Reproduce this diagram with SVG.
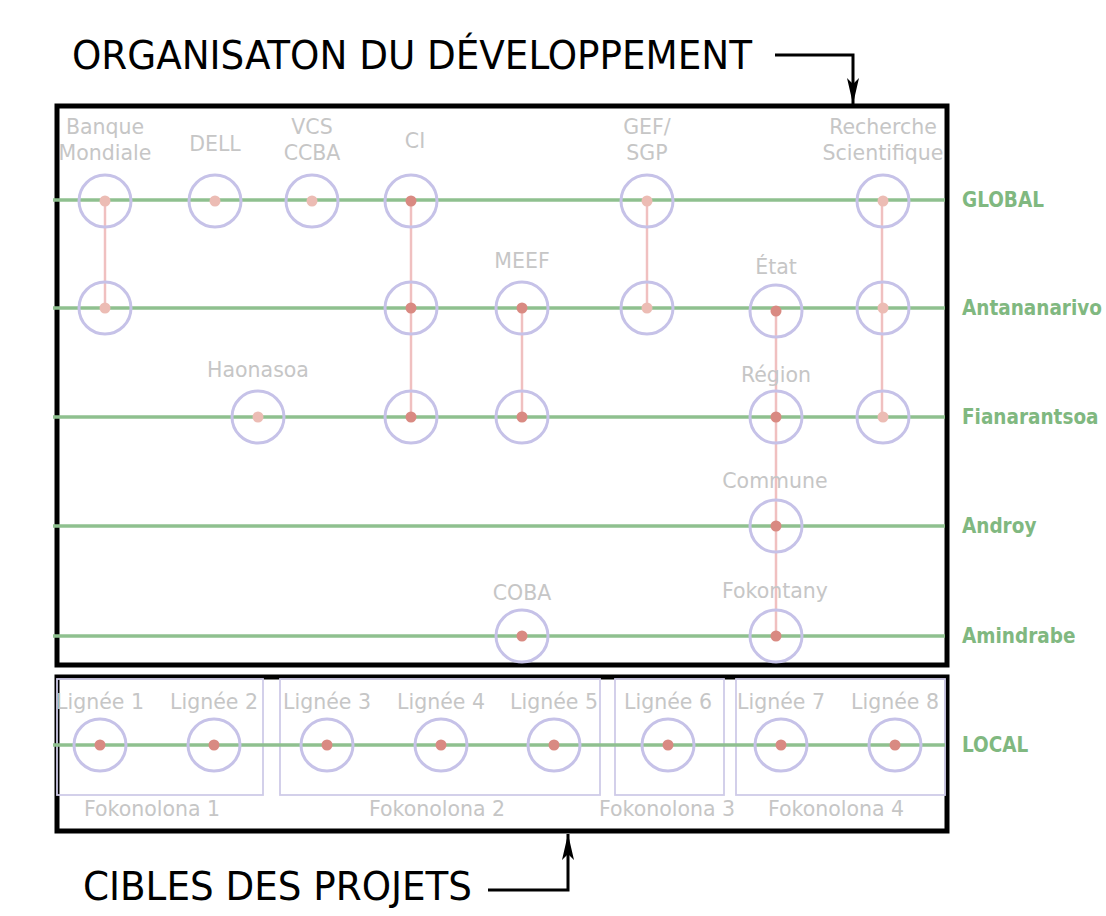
<svg xmlns="http://www.w3.org/2000/svg" width="1106" height="916" viewBox="0 0 1106 916">
<style>
.title{font-family:"DejaVu Sans Condensed","DejaVu Sans",sans-serif;font-size:39px;fill:#000}
.lbl{font-family:"DejaVu Sans",sans-serif;font-size:20.5px;fill:#c6c6c6;text-anchor:middle}
.lvl{font-family:"DejaVu Sans Condensed","DejaVu Sans",sans-serif;font-size:20.5px;font-weight:bold;fill:#80b880}
.lane{stroke:#8fc08f;stroke-width:3.5;fill:none}
.ring{fill:none;stroke:#c6c2e8;stroke-width:3}
.dd{fill:#d98a82}
.ld{fill:#ecbcb4}
.link{stroke:#f0c0c0;stroke-width:2.5;fill:none}
.frame{fill:none;stroke:#000;stroke-width:5}
.fk{fill:none;stroke:#cfcbe8;stroke-width:1.8}
.arr{fill:none;stroke:#000;stroke-width:3}
</style>
<defs>
<marker id="down" viewBox="0 0 12 26" refX="6" refY="26" markerWidth="12" markerHeight="26" markerUnits="userSpaceOnUse" orient="0">
<path d="M0,0 L6,6 L12,0 L6,26 Z" fill="#000"/>
</marker>
<marker id="up" viewBox="0 0 12 26" refX="6" refY="0" markerWidth="12" markerHeight="26" markerUnits="userSpaceOnUse" orient="0">
<path d="M0,26 L6,20 L12,26 L6,0 Z" fill="#000"/>
</marker>
</defs>
<rect width="1106" height="916" fill="#fff"/>

<g id="frames">
<rect class="frame" x="57" y="106" width="890" height="559"/>
<rect class="frame" x="57" y="677" width="890" height="154"/>
</g>

<g id="fokonolona">
<rect class="fk" x="57" y="679" width="206" height="116"/>
<rect class="fk" x="280" y="679" width="320" height="116"/>
<rect class="fk" x="615" y="679" width="109" height="116"/>
<rect class="fk" x="736" y="679" width="209" height="116"/>
<text class="lbl" x="152" y="816">Fokonolona 1</text>
<text class="lbl" x="437" y="816">Fokonolona 2</text>
<text class="lbl" x="667" y="816">Fokonolona 3</text>
<text class="lbl" x="836" y="816">Fokonolona 4</text>
</g>

<g id="lanes">
<line class="lane" x1="53" y1="200" x2="945" y2="200"/>
<line class="lane" x1="53" y1="308" x2="945" y2="308"/>
<line class="lane" x1="53" y1="417" x2="945" y2="417"/>
<line class="lane" x1="53" y1="526" x2="945" y2="526"/>
<line class="lane" x1="53" y1="636" x2="945" y2="636"/>
<line class="lane" x1="53" y1="745" x2="945" y2="745"/>
<text class="lvl" x="962" y="207">GLOBAL</text>
<text class="lvl" x="962" y="315">Antananarivo</text>
<text class="lvl" x="962" y="424">Fianarantsoa</text>
<text class="lvl" x="962" y="533">Androy</text>
<text class="lvl" x="962" y="643">Amindrabe</text>
<text class="lvl" x="962" y="752">LOCAL</text>
</g>

<g id="connectors">
<line class="link" x1="105" y1="200" x2="105" y2="308"/>
<line class="link" x1="411" y1="200" x2="411" y2="417"/>
<line class="link" x1="522" y1="308" x2="522" y2="417"/>
<line class="link" x1="647" y1="200" x2="647" y2="308"/>
<line class="link" x1="776" y1="311" x2="776" y2="636"/>
<line class="link" x1="882" y1="200" x2="882" y2="417"/>
</g>

<g id="banque-mondiale">
<text class="lbl" x="105" y="134">Banque</text>
<text class="lbl" x="105" y="160">Mondiale</text>
<circle class="ring" cx="105" cy="201" r="26"/><circle class="ld" cx="105" cy="201" r="5.5"/>
<circle class="ring" cx="105" cy="308" r="26"/><circle class="ld" cx="105" cy="308" r="5.5"/>
</g>
<g id="dell">
<text class="lbl" x="215" y="151">DELL</text>
<circle class="ring" cx="215" cy="201" r="26"/><circle class="ld" cx="215" cy="201" r="5.5"/>
</g>
<g id="vcs-ccba">
<text class="lbl" x="312" y="134">VCS</text>
<text class="lbl" x="312" y="160">CCBA</text>
<circle class="ring" cx="312" cy="201" r="26"/><circle class="ld" cx="312" cy="201" r="5.5"/>
</g>
<g id="ci">
<text class="lbl" x="415" y="148">CI</text>
<circle class="ring" cx="411" cy="201" r="26"/><circle class="dd" cx="411" cy="201" r="5.5"/>
<circle class="ring" cx="411" cy="308" r="26"/><circle class="dd" cx="411" cy="308" r="5.5"/>
<circle class="ring" cx="411" cy="417" r="26"/><circle class="dd" cx="411" cy="417" r="5.5"/>
</g>
<g id="meef">
<text class="lbl" x="522" y="268">MEEF</text>
<circle class="ring" cx="522" cy="308" r="26"/><circle class="dd" cx="522" cy="308" r="5.5"/>
<circle class="ring" cx="522" cy="417" r="26"/><circle class="dd" cx="522" cy="417" r="5.5"/>
</g>
<g id="gef-sgp">
<text class="lbl" x="647" y="134">GEF/</text>
<text class="lbl" x="647" y="160">SGP</text>
<circle class="ring" cx="647" cy="201" r="26"/><circle class="ld" cx="647" cy="201" r="5.5"/>
<circle class="ring" cx="647" cy="308" r="26"/><circle class="ld" cx="647" cy="308" r="5.5"/>
</g>
<g id="recherche-scientifique">
<text class="lbl" x="883" y="134">Recherche</text>
<text class="lbl" x="883" y="160">Scientifique</text>
<circle class="ring" cx="883" cy="201" r="26"/><circle class="ld" cx="883" cy="201" r="5.5"/>
<circle class="ring" cx="883" cy="308" r="26"/><circle class="ld" cx="883" cy="308" r="5.5"/>
<circle class="ring" cx="883" cy="417" r="26"/><circle class="ld" cx="883" cy="417" r="5.5"/>
</g>
<g id="haonasoa">
<text class="lbl" x="258" y="377">Haonasoa</text>
<circle class="ring" cx="258" cy="417" r="26"/><circle class="ld" cx="258" cy="417" r="5.5"/>
</g>
<g id="etat">
<text class="lbl" x="776" y="274">État</text>
<circle class="ring" cx="776" cy="311" r="26"/><circle class="dd" cx="776" cy="311" r="5.5"/>
</g>
<g id="region">
<text class="lbl" x="776" y="382">Région</text>
<circle class="ring" cx="776" cy="417" r="26"/><circle class="dd" cx="776" cy="417" r="5.5"/>
</g>
<g id="commune">
<text class="lbl" x="775" y="488">Commune</text>
<circle class="ring" cx="776" cy="526" r="26"/><circle class="dd" cx="776" cy="526" r="5.5"/>
</g>
<g id="fokontany">
<text class="lbl" x="775" y="598">Fokontany</text>
<circle class="ring" cx="776" cy="636" r="26"/><circle class="dd" cx="776" cy="636" r="5.5"/>
</g>
<g id="coba">
<text class="lbl" x="522" y="600">COBA</text>
<circle class="ring" cx="522" cy="636" r="26"/><circle class="dd" cx="522" cy="636" r="5.5"/>
</g>

<g id="lignee-1"><text class="lbl" x="100" y="709">Lignée 1</text><circle class="ring" cx="100" cy="745" r="26"/><circle class="dd" cx="100" cy="745" r="5.5"/></g>
<g id="lignee-2"><text class="lbl" x="214" y="709">Lignée 2</text><circle class="ring" cx="214" cy="745" r="26"/><circle class="dd" cx="214" cy="745" r="5.5"/></g>
<g id="lignee-3"><text class="lbl" x="327" y="709">Lignée 3</text><circle class="ring" cx="327" cy="745" r="26"/><circle class="dd" cx="327" cy="745" r="5.5"/></g>
<g id="lignee-4"><text class="lbl" x="441" y="709">Lignée 4</text><circle class="ring" cx="441" cy="745" r="26"/><circle class="dd" cx="441" cy="745" r="5.5"/></g>
<g id="lignee-5"><text class="lbl" x="554" y="709">Lignée 5</text><circle class="ring" cx="554" cy="745" r="26"/><circle class="dd" cx="554" cy="745" r="5.5"/></g>
<g id="lignee-6"><text class="lbl" x="668" y="709">Lignée 6</text><circle class="ring" cx="668" cy="745" r="26"/><circle class="dd" cx="668" cy="745" r="5.5"/></g>
<g id="lignee-7"><text class="lbl" x="781" y="709">Lignée 7</text><circle class="ring" cx="781" cy="745" r="26"/><circle class="dd" cx="781" cy="745" r="5.5"/></g>
<g id="lignee-8"><text class="lbl" x="895" y="709">Lignée 8</text><circle class="ring" cx="895" cy="745" r="26"/><circle class="dd" cx="895" cy="745" r="5.5"/></g>

<g id="title-top">
<text class="title" x="72" y="69" textLength="680" lengthAdjust="spacingAndGlyphs">ORGANISATON DU DÉVELOPPEMENT</text>
<path class="arr" d="M775,55 H853 V104" marker-end="url(#down)"/>
</g>
<g id="title-bottom">
<text class="title" x="83" y="900" textLength="389" lengthAdjust="spacingAndGlyphs">CIBLES DES PROJETS</text>
<path class="arr" d="M488,890 H568 V834" marker-end="url(#up)"/>
</g>
</svg>
